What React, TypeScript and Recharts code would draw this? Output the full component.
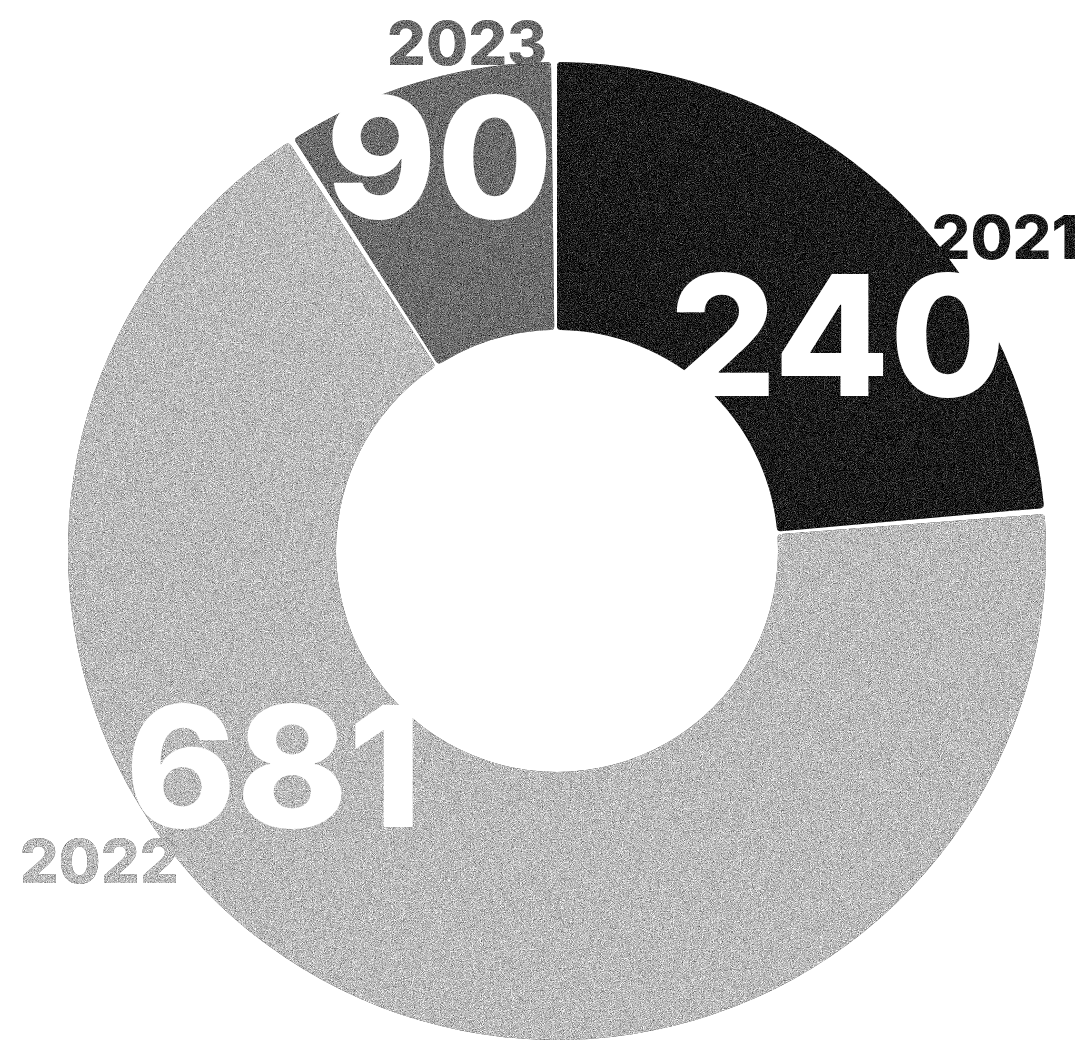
import React from 'react';
import { PieChart, Pie, Cell } from 'recharts';

const years = ['2021', '2022', '2023'];
const counts = [240, 681, 90];
const sliceColors = ['#1c1c1c', '#bdbdbd', '#6e6e6e'];

const data = years.map((year, i) => ({ name: year, value: counts[i] }));

// where each label sits, relative to its slice's mid angle (degrees) and the centre (px)
const numberSpots = [
  { shift: -10, r: 354 },
  { shift: -26.5, r: 356 },
  { shift: 0, r: 411 },
];
const yearSpots = [
  { shift: -12.5, r: 547 },
  { shift: -29.7, r: 553 },
  { shift: -6.6, r: 516 },
];

const RAD = Math.PI / 180;
const FONT = 'Inter, "Open Sans", sans-serif';

const polar = (cx: number, cy: number, r: number, angle: number) => ({
  x: cx + r * Math.cos(-angle * RAD),
  y: cy + r * Math.sin(-angle * RAD),
});

const renderLabel = (props: any) => {
  const { cx, cy, midAngle, index, value, name } = props;
  const n = numberSpots[index];
  const y = yearSpots[index];
  const np = polar(cx, cy, n.r, midAngle + n.shift);
  const yp = polar(cx, cy, y.r, midAngle + y.shift);
  return (
    <g key={`lbl-${index}`}>
      <text
        x={yp.x}
        y={yp.y}
        dy="0.36em"
        textAnchor="middle"
        fill={sliceColors[index]}
        filter="url(#grain)"
        style={{ fontFamily: FONT, fontWeight: 800, fontSize: 61 }}
      >
        {name}
      </text>
      <text
        x={np.x}
        y={np.y}
        dy="0.36em"
        textAnchor="middle"
        fill="#ffffff"
        style={{ fontFamily: FONT, fontWeight: 800, fontSize: 168 }}
      >
        {value}
      </text>
    </g>
  );
};

const App: React.FC = () => {
  return (
    <div style={{ position: 'absolute', left: 0, top: 0, background: '#fff' }}>
      <style>{`.recharts-sector { filter: url(#grain); }`}</style>
      <svg width={0} height={0} style={{ position: 'absolute' }}>
        <defs>
          <filter id="grain" x="-5%" y="-5%" width="110%" height="110%" colorInterpolationFilters="sRGB">
            <feTurbulence type="fractalNoise" baseFrequency="1.1" numOctaves={3} seed={7} stitchTiles="stitch" result="noise" />
            <feColorMatrix
              in="noise"
              type="matrix"
              values="0.33 0.33 0.33 0 0  0.33 0.33 0.33 0 0  0.33 0.33 0.33 0 0  0 0 0 0 1"
              result="gray"
            />
            <feComposite in="SourceGraphic" in2="gray" operator="arithmetic" k1={0} k2={1} k3={1.7} k4={-0.85} result="mixed" />
            <feComposite in="mixed" in2="SourceAlpha" operator="in" />
          </filter>
        </defs>
      </svg>
      <PieChart width={1088} height={1046}>
        <Pie
          data={data}
          dataKey="value"
          nameKey="name"
          cx={552}
          cy={546}
          innerRadius={221}
          outerRadius={489}
          startAngle={90}
          endAngle={-270}
          paddingAngle={0.7}
          cornerRadius={4}
          stroke="none"
          label={renderLabel}
          labelLine={false}
          isAnimationActive={false}
        >
          {data.map((d, i) => (
            <Cell key={d.name} fill={sliceColors[i]} />
          ))}
        </Pie>
      </PieChart>
    </div>
  );
};

export default App;
